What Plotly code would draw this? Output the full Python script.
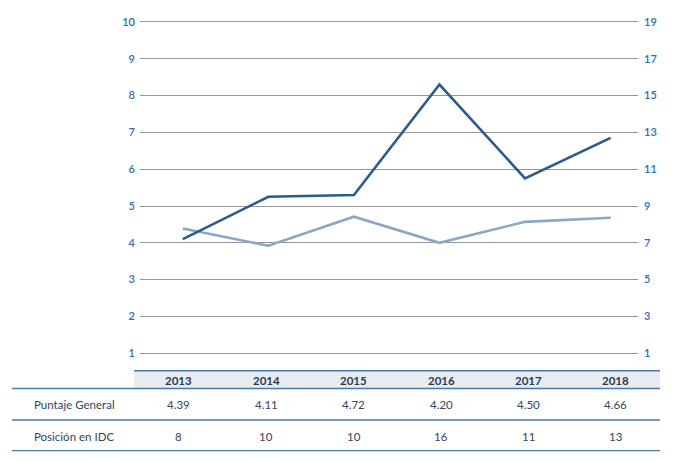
import plotly.graph_objects as go

W, H = 673, 461

years = ["2013", "2014", "2015", "2016", "2017", "2018"]
# values as drawn in the chart
puntaje_line = [4.39, 3.92, 4.71, 4.00, 4.57, 4.68]
posicion_line = [7.2, 9.5, 9.6, 15.6, 10.5, 12.7]
# values printed in the table
puntaje_table = ["4.39", "4.11", "4.72", "4.20", "4.50", "4.66"]
posicion_table = ["8", "10", "10", "16", "11", "13"]
row_labels = ["Puntaje General", "Posición en IDC"]
left_ticks = [1, 2, 3, 4, 5, 6, 7, 8, 9, 10]
right_ticks = [1, 3, 5, 7, 9, 11, 13, 15, 17, 19]

FONT = "Lato"
TICK_COLOR = "#2f6db0"
TEXT_COLOR = "#36445a"
HEAD_COLOR = "#2c3b52"
RULE = "#4a78a8"

def px(x):
    return x / W

def py(y):
    return 1 - y / H

idx = list(range(len(years)))

fig = go.Figure()
fig.add_trace(go.Scatter(x=years, y=puntaje_line, mode="lines",
                         line=dict(color="#8ba6c6", width=2.6),
                         xaxis="x", yaxis="y", showlegend=False, hoverinfo="skip"))
fig.add_trace(go.Scatter(x=years, y=posicion_line, mode="lines",
                         line=dict(color="#2a5b8d", width=2.6),
                         xaxis="x", yaxis="y2", showlegend=False, hoverinfo="skip"))
# invisible anchor trace for the table column axis
fig.add_trace(go.Scatter(x=idx, y=[0.0] * len(idx), mode="markers",
                         marker=dict(opacity=0, size=1),
                         xaxis="x2", yaxis="y", showlegend=False, hoverinfo="skip"))

ydom = [py(365), py(15)]
xdom = [px(140), px(638)]

fig.update_layout(
    width=W, height=H,
    margin=dict(l=0, r=0, t=0, b=0),
    paper_bgcolor="white", plot_bgcolor="white",
    font=dict(family=FONT, size=11.5, color=TEXT_COLOR),
    xaxis=dict(domain=xdom, type="category", categoryorder="array", categoryarray=years,
               range=[-0.5, 5.32], showticklabels=False, showgrid=False,
               zeroline=False, showline=False, ticks="", automargin=False),
    xaxis2=dict(domain=xdom, type="linear", range=[-0.446, 5.252], overlaying="x",
                anchor="y", side="bottom",
                showticklabels=False, showgrid=False, zeroline=False, showline=False,
                ticks="", automargin=False),
    yaxis=dict(domain=ydom, range=[0.68, 10.19], tickvals=left_ticks,
               showgrid=True, gridcolor="#979797", gridwidth=1.2,
               zeroline=False, showline=False, ticks="",
               tickfont=dict(family=FONT, size=11, color=TICK_COLOR, weight=600),
               ticklabelstandoff=4, automargin=False),
    yaxis2=dict(domain=ydom, range=[0.36, 19.38], tickvals=right_ticks,
                overlaying="y", side="right", showgrid=False,
                zeroline=False, showline=False, ticks="",
                tickfont=dict(family=FONT, size=11, color=TICK_COLOR, weight=600),
                ticklabelstandoff=5, automargin=False),
)

shapes = []
shapes.append(dict(type="rect", xref="paper", yref="paper",
                   x0=px(134), x1=px(660), y0=py(388.5), y1=py(370.7),
                   fillcolor="#e8ecf1", line=dict(width=0), layer="below"))
shapes.append(dict(type="line", xref="paper", yref="paper",
                   x0=px(134), x1=px(660), y0=py(370.7), y1=py(370.7),
                   line=dict(color=RULE, width=1.5)))
for yy in [388.5, 420, 450.7]:
    shapes.append(dict(type="line", xref="paper", yref="paper",
                       x0=px(12), x1=px(660), y0=py(yy), y1=py(yy),
                       line=dict(color=RULE, width=1.3)))
fig.update_layout(shapes=shapes)

ann = []
for i in idx:
    ann.append(dict(x=i, xref="x2", y=py(380), yref="paper", text="<b>%s</b>" % years[i],
                    showarrow=False, font=dict(size=11.5, color=HEAD_COLOR),
                    xanchor="center", yanchor="middle"))
    ann.append(dict(x=i, xref="x2", y=py(404), yref="paper", text=puntaje_table[i],
                    showarrow=False, font=dict(size=11.5, color=TEXT_COLOR),
                    xanchor="center", yanchor="middle"))
    ann.append(dict(x=i, xref="x2", y=py(436), yref="paper", text=posicion_table[i],
                    showarrow=False, font=dict(size=11.5, color=TEXT_COLOR),
                    xanchor="center", yanchor="middle"))
for lbl, yy in zip(row_labels, [404, 436]):
    ann.append(dict(x=px(74), xref="paper", y=py(yy), yref="paper", text=lbl,
                    showarrow=False, font=dict(size=11.5, color=TEXT_COLOR),
                    xanchor="center", yanchor="middle"))
fig.update_layout(annotations=ann)

fig.write_html("out.html", config={"displayModeBar": False},
               post_script="document.body.style.margin='0px';")
